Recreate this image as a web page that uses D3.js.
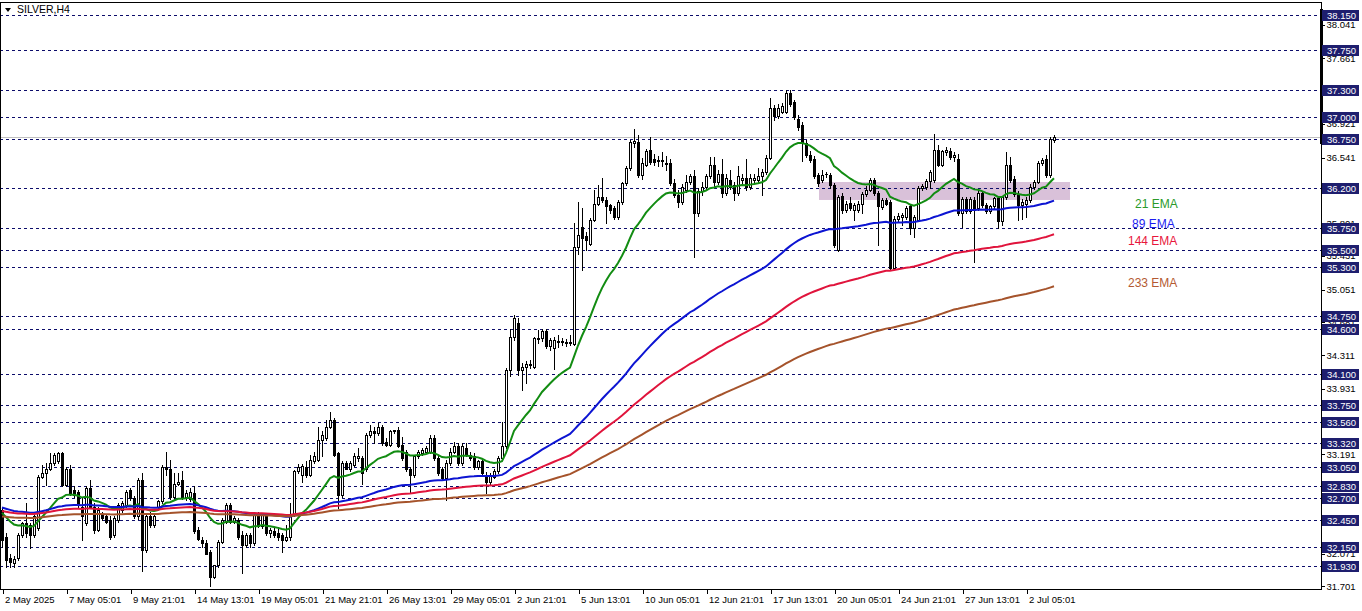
<!DOCTYPE html>
<html><head><meta charset="utf-8">
<script src="https://cdn.jsdelivr.net/npm/d3@7"></script>
<style>html,body{margin:0;padding:0;background:#fff;overflow:hidden}</style>
</head><body><svg id="c" width="1362" height="611"></svg>
<script>
const symbolTitle = "SILVER,H4";
const timeLabels = ["2 May 2025","7 May 05:01","9 May 21:01","14 May 13:01","19 May 05:01","21 May 21:01","26 May 13:01","29 May 05:01","2 Jun 21:01","5 Jun 13:01","10 Jun 05:01","12 Jun 21:01","17 Jun 13:01","20 Jun 05:01","24 Jun 21:01","27 Jun 13:01","2 Jul 05:01"];
const timeLabelBars = [0,16,32,48,64,80,96,112,128,144,160,176,192,208,224,240,256];

const openP = [
32.56,32.26,32.02,31.96,32.02,32.28,32.41,32.39,32.28,32.36,
32.94,32.98,33.03,33.09,33.11,33.21,32.85,33.03,32.79,32.77,
32.60,32.41,32.81,32.60,32.34,32.51,32.49,32.45,32.28,32.45,
32.56,32.62,32.79,32.70,32.49,32.90,32.11,32.49,32.39,32.60,
32.66,33.05,33.03,32.71,32.86,32.90,32.71,32.69,32.75,32.34,
32.22,32.19,32.09,31.81,31.94,32.20,32.43,32.62,32.43,32.45,
32.28,32.17,32.28,32.19,32.51,32.38,32.49,32.30,32.32,32.30,
32.28,32.22,32.26,32.51,33.00,32.96,33.05,32.96,33.11,33.13,
33.35,33.37,33.50,33.58,33.20,32.73,33.09,33.02,33.07,33.15,
33.15,33.02,33.41,33.45,33.43,33.50,33.33,33.30,33.45,33.47,
33.30,33.22,33.02,32.96,33.17,33.20,33.22,33.22,33.37,33.15,
33.02,32.92,33.09,33.22,33.28,33.09,33.26,33.18,33.17,33.05,
33.11,32.96,32.88,32.94,33.00,33.15,33.28,34.14,34.52,34.67,
34.14,34.18,34.21,34.18,34.50,34.50,34.58,34.41,34.39,34.46,
34.46,34.46,34.45,34.44,35.53,35.76,35.65,35.57,35.84,36.02,
36.10,36.06,36.00,35.97,35.87,36.04,36.25,36.42,36.70,36.72,
36.34,36.46,36.63,36.52,36.50,36.51,36.48,36.48,36.25,36.12,
36.04,36.17,36.27,36.33,35.91,36.16,36.21,36.33,36.46,36.27,
36.36,36.14,36.29,36.23,36.14,36.29,36.31,36.21,36.29,36.29,
36.33,36.38,36.54,37.10,37.01,37.06,37.06,37.27,37.17,36.98,
36.91,36.70,36.57,36.53,36.34,36.29,36.36,36.34,36.23,35.50,
36.11,35.95,36.03,35.95,35.95,36.02,36.13,36.18,36.29,36.14,
35.98,36.06,36.04,35.29,35.85,35.87,35.87,35.99,35.74,35.84,
36.20,36.21,36.28,36.29,36.63,36.46,36.60,36.61,36.55,36.53,
35.91,36.07,35.94,36.06,35.97,36.14,36.00,35.94,35.99,36.08,
35.82,36.09,36.46,36.30,36.13,36.00,36.02,36.06,36.21,36.27,
36.48,36.53,36.34,36.74];
const highP = [
32.60,32.30,32.06,32.04,32.30,32.43,32.64,32.41,32.51,32.96,
33.07,33.09,33.20,33.21,33.22,33.22,33.05,33.07,32.83,32.79,
32.71,32.83,32.90,32.64,32.60,32.54,32.51,32.49,32.49,32.64,
32.66,32.79,32.81,32.72,32.92,32.98,32.51,32.54,32.51,32.68,
33.07,33.22,33.13,32.98,32.98,33.00,32.79,32.81,32.83,32.37,
32.26,32.22,32.11,31.94,32.22,32.47,32.64,32.64,32.49,32.47,
32.32,32.30,32.30,32.53,32.54,32.53,32.51,32.36,32.36,32.37,
32.30,32.39,32.64,33.01,33.08,33.08,33.12,33.18,33.22,33.50,
33.45,33.58,33.67,33.60,33.22,33.11,33.11,33.11,33.20,33.26,
33.17,33.43,33.52,33.50,33.54,33.52,33.37,33.47,33.47,33.50,
33.39,33.24,33.05,33.18,33.24,33.26,33.28,33.41,33.41,33.17,
33.05,33.13,33.26,33.33,33.32,33.32,33.32,33.22,33.20,33.13,
33.15,32.99,32.98,33.02,33.17,33.56,34.17,34.60,34.76,34.73,
34.22,34.24,34.26,34.52,34.59,34.60,34.60,34.50,34.52,34.54,
34.50,34.49,34.54,35.80,36.04,35.97,35.70,35.86,36.17,36.23,
36.31,36.10,36.02,35.99,36.06,36.27,36.45,36.74,36.86,36.80,
36.54,36.64,36.77,36.58,36.56,36.60,36.56,36.52,36.30,36.18,
36.24,36.34,36.36,36.40,36.20,36.26,36.36,36.55,36.55,36.40,
36.52,36.36,36.40,36.27,36.44,36.36,36.52,36.35,36.36,36.42,
36.41,36.57,37.21,37.13,37.14,37.16,37.30,37.30,37.19,37.02,
36.94,36.74,36.62,36.56,36.37,36.40,36.38,36.37,36.25,36.12,
36.14,36.05,36.10,36.03,36.05,36.15,36.22,36.31,36.31,36.16,
36.08,36.08,36.06,35.88,35.92,35.92,35.99,36.01,35.89,36.22,
36.24,36.30,36.40,36.81,36.68,36.63,36.66,36.65,36.60,36.58,
36.09,36.10,36.09,36.09,36.16,36.16,36.03,36.01,36.10,36.10,
36.11,36.60,36.55,36.33,36.16,36.07,36.09,36.24,36.29,36.50,
36.54,36.57,36.77,36.79];
const lowP = [
32.15,31.92,31.92,31.92,32.00,32.26,32.26,32.13,32.26,32.34,
32.92,32.85,33.01,33.07,33.09,32.83,32.83,32.73,32.71,32.60,
32.22,32.39,32.58,32.30,32.32,32.45,32.41,32.24,32.26,32.43,
32.54,32.60,32.68,32.47,32.46,31.87,32.09,32.37,32.37,32.58,
32.64,32.96,32.69,32.68,32.85,32.69,32.68,32.66,32.30,32.22,
32.15,32.06,31.70,31.79,31.92,32.19,32.41,32.41,32.41,32.24,
31.85,32.15,32.15,32.17,32.37,32.36,32.28,32.26,32.26,32.22,
32.09,32.21,32.22,32.49,32.98,32.88,32.94,32.95,33.09,33.12,
33.17,33.35,33.49,33.17,32.58,32.71,33.02,33.00,33.06,33.11,
32.86,33.00,33.39,33.32,33.41,33.30,33.28,33.28,33.43,33.27,
33.13,33.00,32.75,32.94,33.15,33.18,33.20,33.20,33.13,32.96,
32.90,32.68,33.07,33.20,33.07,33.07,33.17,33.13,33.03,33.03,
32.96,32.75,32.85,32.92,32.98,33.13,33.26,34.07,34.48,34.09,
33.92,34.00,34.16,34.16,34.45,34.47,34.39,34.37,34.15,34.40,
34.43,34.41,34.42,34.43,35.45,35.27,35.50,35.55,35.82,36.00,
36.04,35.80,35.92,35.85,35.85,36.02,36.23,36.40,36.66,36.32,
36.30,36.44,36.47,36.46,36.45,36.45,36.40,36.23,36.10,35.98,
36.02,36.15,36.24,35.42,35.88,36.12,36.19,36.31,36.22,36.24,
36.09,36.12,36.19,36.06,36.12,36.25,36.18,36.19,36.26,36.27,
36.12,36.36,36.52,36.97,36.99,37.04,37.04,37.12,36.98,36.85,
36.50,36.55,36.49,36.31,36.22,36.26,36.32,36.20,35.53,35.49,
35.92,35.93,35.95,35.84,35.93,35.92,36.11,36.16,36.12,35.55,
35.96,36.00,35.28,35.28,35.82,35.78,35.85,35.68,35.64,35.82,
36.18,36.19,36.20,36.27,36.44,36.44,36.57,36.52,36.50,35.89,
35.76,35.92,35.92,35.36,35.95,35.98,35.92,35.91,35.97,35.75,
35.78,36.07,36.27,36.11,35.84,35.85,35.87,36.04,36.19,36.25,
36.46,36.32,36.32,36.72];
const closeP = [
32.22,32.00,31.98,32.01,32.28,32.41,32.30,32.28,32.49,32.94,
32.98,33.03,33.09,33.18,33.20,32.85,33.03,32.75,32.73,32.62,
32.49,32.81,32.60,32.34,32.56,32.47,32.43,32.26,32.47,32.62,
32.64,32.77,32.70,32.49,32.90,32.11,32.49,32.39,32.49,32.66,
33.05,33.03,32.71,32.86,32.88,32.71,32.75,32.77,32.32,32.24,
32.19,32.07,31.81,31.94,32.20,32.45,32.62,32.43,32.47,32.26,
32.17,32.28,32.19,32.51,32.38,32.51,32.30,32.34,32.28,32.26,
32.22,32.26,32.51,33.00,33.05,33.06,32.96,33.13,33.17,33.35,
33.41,33.50,33.58,33.18,32.73,33.09,33.03,33.09,33.17,33.17,
32.98,33.41,33.45,33.43,33.50,33.32,33.30,33.45,33.46,33.29,
33.15,33.02,32.96,33.17,33.22,33.24,33.26,33.37,33.15,32.98,
32.92,33.09,33.22,33.28,33.09,33.28,33.18,33.15,33.05,33.11,
32.98,32.88,32.95,33.00,33.15,33.28,34.14,34.52,34.73,34.14,
34.18,34.21,34.20,34.50,34.49,34.58,34.41,34.48,34.48,34.47,
34.47,34.45,34.46,35.53,35.67,35.63,35.61,35.84,36.02,36.10,
36.06,35.99,35.95,35.87,36.04,36.25,36.42,36.72,36.73,36.34,
36.48,36.61,36.49,36.49,36.51,36.50,36.47,36.25,36.12,36.04,
36.21,36.27,36.33,35.91,36.16,36.21,36.33,36.46,36.27,36.36,
36.14,36.31,36.21,36.14,36.33,36.31,36.21,36.31,36.31,36.33,
36.38,36.54,37.10,37.01,37.10,37.12,37.27,37.15,37.00,36.89,
36.70,36.57,36.51,36.33,36.25,36.34,36.35,36.23,35.55,36.10,
35.95,36.02,35.97,36.00,36.02,36.13,36.18,36.29,36.14,35.99,
36.06,36.02,35.29,35.85,35.88,35.89,35.97,35.74,35.87,36.20,
36.22,36.28,36.38,36.63,36.46,36.61,36.63,36.55,36.57,35.91,
36.07,35.94,36.07,35.95,36.14,36.00,35.94,35.99,36.08,35.82,
36.09,36.46,36.29,36.13,36.01,36.04,36.06,36.21,36.27,36.48,
36.51,36.34,36.75,36.77];

const levelLines = [38.150,37.750,37.300,37.000,36.750,36.200,35.750,35.500,35.300,34.750,34.600,34.100,33.750,33.560,33.320,33.050,32.830,32.700,32.450,32.150,31.930];
const priceTicks = [38.041,37.661,37.291,36.921,36.541,36.171,35.801,35.431,35.051,34.681,34.311,33.931,33.561,33.191,32.811,32.441,32.071,31.701];
const bidPrice = 36.77;
const emaPeriods = [21,89,144,233];
const emaStart = [32.53,32.59,32.55,32.49];
const emaNames = ["21 EMA","89 EMA","144 EMA","233 EMA"];
const zoneBars = [204.25, 267];
const zonePrices = [36.265, 36.062];

// ---------- drawing ----------
const svg = d3.select("#c");
const axisX = 1321, axisY = 590;
const N = closeP.length;
const FONT = "Liberation Sans, Arial, sans-serif";
const x = d3.scaleLinear().domain([0, N - 1]).range([2, 2 + 4 * (N - 1)]);
const y = d3.scaleLinear().domain([31.93, 38.15]).range([566, 15]);
const emaLineColors = ["#128c12","#0c14d2","#e0143c","#a5532b"];
const emaTextColors = ["#2a9a2a","#1c1cf0","#e8163c","#b45a32"];
const emaTextPos = [[1135,208],[1132,228],[1128,245],[1128,287]];

const plot = svg.append("g");
plot.append("clipPath").attr("id","pc").append("rect").attr("x",0).attr("y",0).attr("width",axisX).attr("height",axisY);
const g = plot.append("g").attr("clip-path","url(#pc)");

// zone rectangle
g.append("rect")
  .attr("x", x(zoneBars[0])).attr("y", y(zonePrices[0]))
  .attr("width", x(zoneBars[1]) - x(zoneBars[0]))
  .attr("height", y(zonePrices[1]) - y(zonePrices[0]))
  .attr("fill", "#d9c1d9");

// level lines
g.selectAll("line.lvl").data(levelLines).join("line").attr("class","lvl")
  .attr("x1",0).attr("x2",axisX)
  .attr("y1", d => Math.round(y(d)) + 0.5).attr("y2", d => Math.round(y(d)) + 0.5)
  .attr("stroke","#0c0c6a").attr("stroke-width",1).attr("stroke-dasharray","3,3")
  .attr("shape-rendering","crispEdges");

// bid line
g.append("line").attr("x1",0).attr("x2",axisX)
  .attr("y1", Math.round(y(bidPrice)) + 0.5).attr("y2", Math.round(y(bidPrice)) + 0.5)
  .attr("stroke","#c0c0c0").attr("stroke-width",1).attr("shape-rendering","crispEdges");

// candles
const bars = d3.range(N).map(i => {
  const o = openP[i], c = closeP[i];
  return {i, o, c, h: Math.max(highP[i], o, c), l: Math.min(lowP[i], o, c)};
});
const cg = g.append("g").attr("shape-rendering","crispEdges");
bars.forEach(b => {
  const xc = Math.round(x(b.i));
  const yh = Math.round(y(b.h)), yl = Math.round(y(b.l));
  const yt = Math.round(y(Math.max(b.o, b.c))), yb = Math.round(y(Math.min(b.o, b.c)));
  cg.append("rect").attr("x", xc).attr("y", yh).attr("width",1).attr("height", Math.max(1, yl - yh + 1)).attr("fill","#000");
  cg.append("rect").attr("x", xc - 1).attr("y", yt).attr("width",3).attr("height", Math.max(1, yb - yt + 1)).attr("fill","#000");
  if (b.c > b.o && yb - yt >= 2) {
    cg.append("rect").attr("x", xc).attr("y", yt + 1).attr("width",1).attr("height", yb - yt - 1).attr("fill","#fff");
  }
});

// EMAs
emaPeriods.forEach((p, k) => {
  const a = 2 / (p + 1);
  let e = emaStart[k];
  const vals = closeP.map((c, i) => { if (i > 0) e = e + a * (c - e); return e; });
  g.append("path").datum(vals)
    .attr("d", d3.line().x((d, i) => x(i)).y(d => y(d)))
    .attr("fill","none").attr("stroke", emaLineColors[k]).attr("stroke-width",2);
  svg.append("text").attr("x", emaTextPos[k][0]).attr("y", emaTextPos[k][1])
    .attr("font-family", FONT).attr("font-size","12px")
    .attr("fill", emaTextColors[k]).text(emaNames[k]);
});

// frame
svg.append("line").attr("x1",0.5).attr("x2",0.5).attr("y1",2).attr("y2",axisY).attr("stroke","#000").attr("shape-rendering","crispEdges");
svg.append("line").attr("x1",0).attr("x2",axisX).attr("y1",2.5).attr("y2",2.5).attr("stroke","#000").attr("shape-rendering","crispEdges");

// price axis
const yAxis = d3.axisRight(y).tickValues(priceTicks).tickSize(3).tickFormat(d3.format(".3f"));
const ya = svg.append("g").attr("transform", `translate(${axisX + 0.5},0)`).call(yAxis);
ya.select(".domain").remove();
ya.selectAll("text").attr("x",5).attr("font-family", FONT).attr("font-size","9.5px").attr("fill","#000");
ya.selectAll("line").attr("stroke","#000").attr("shape-rendering","crispEdges");
svg.append("line").attr("x1",axisX+0.5).attr("x2",axisX+0.5).attr("y1",2).attr("y2",axisY).attr("stroke","#000").attr("shape-rendering","crispEdges");
svg.append("rect").attr("x",axisX-1).attr("y",9).attr("width",3).attr("height",135).attr("fill","#000");

// level labels
const lg = svg.append("g").selectAll("g").data(levelLines).join("g")
  .attr("transform", d => `translate(${axisX + 1},${Math.round(y(d))})`);
lg.append("rect").attr("x",0).attr("y",-5).attr("width",37).attr("height",11).attr("fill","#1e1e6e");
lg.append("text").attr("x",5).attr("y",4).attr("font-family", FONT).attr("font-size","9.5px")
  .attr("fill","#fff").text(d => d3.format(".3f")(d));

// time axis
const xAxis = d3.axisBottom(x).tickValues(timeLabelBars).tickSize(4).tickFormat((d, i) => timeLabels[i]);
const xa = svg.append("g").attr("transform", `translate(0.5,${axisY})`).call(xAxis);
xa.select(".domain").remove();
xa.selectAll("line").attr("stroke","#000").attr("shape-rendering","crispEdges");
xa.selectAll("text").attr("text-anchor","start").attr("x",2).attr("y",6).attr("dy","0.71em")
  .attr("font-family", FONT).attr("font-size","9.5px").attr("fill","#000");
svg.append("line").attr("x1",0).attr("x2",axisX+1).attr("y1",axisY-0.5).attr("y2",axisY-0.5).attr("stroke","#000").attr("shape-rendering","crispEdges");

// title
svg.append("path").attr("d","M5,8 L11,8 L8,12 Z").attr("fill","#000");
svg.append("text").attr("x",17).attr("y",13).attr("font-family", FONT).attr("font-size","10.5px").attr("fill","#000").text(symbolTitle);
</script></body></html>
